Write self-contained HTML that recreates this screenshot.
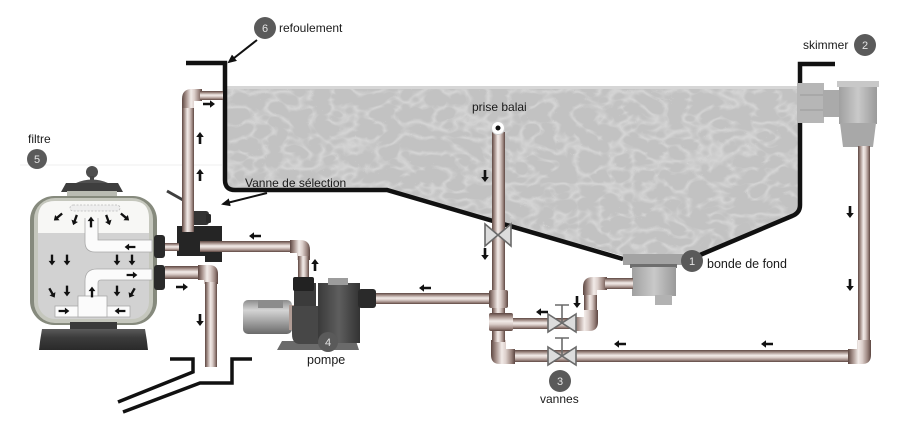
<!DOCTYPE html>
<html><head><meta charset="utf-8"><style>
html,body{margin:0;padding:0;background:#fff;}
svg{display:block;}
text{font-family:"Liberation Sans",Arial,sans-serif;}
</style></head><body>
<svg width="920" height="429" viewBox="0 0 920 429" xmlns="http://www.w3.org/2000/svg">
<defs>
 <linearGradient id="pv" x1="0" y1="0" x2="1" y2="0">
  <stop offset="0" stop-color="#5c4641"/><stop offset="0.2" stop-color="#a48f89"/>
  <stop offset="0.45" stop-color="#f2ebe8"/><stop offset="0.62" stop-color="#dccfcb"/>
  <stop offset="0.85" stop-color="#9a847e"/><stop offset="1" stop-color="#5c4641"/>
 </linearGradient>
 <linearGradient id="ph" x1="0" y1="0" x2="0" y2="1">
  <stop offset="0" stop-color="#5c4641"/><stop offset="0.2" stop-color="#a48f89"/>
  <stop offset="0.45" stop-color="#f2ebe8"/><stop offset="0.62" stop-color="#dccfcb"/>
  <stop offset="0.85" stop-color="#9a847e"/><stop offset="1" stop-color="#5c4641"/>
 </linearGradient>
 <linearGradient id="motor" x1="0" y1="0" x2="0" y2="1">
  <stop offset="0" stop-color="#8c8c8c"/><stop offset="0.3" stop-color="#d4d4d4"/>
  <stop offset="0.6" stop-color="#a8a8a8"/><stop offset="1" stop-color="#6a6a6a"/>
 </linearGradient>
 <linearGradient id="dark" x1="0" y1="0" x2="1" y2="0">
  <stop offset="0" stop-color="#3a3a3a"/><stop offset="0.5" stop-color="#5e5e5e"/><stop offset="1" stop-color="#333"/>
 </linearGradient>
 <linearGradient id="gsk" x1="0" y1="0" x2="1" y2="0">
  <stop offset="0" stop-color="#a0a0a0"/><stop offset="0.5" stop-color="#c9c9c9"/><stop offset="1" stop-color="#9a9a9a"/>
 </linearGradient>
 <linearGradient id="base" x1="0" y1="0" x2="0" y2="1">
  <stop offset="0" stop-color="#5a5a5a"/><stop offset="0.4" stop-color="#3c3c3c"/><stop offset="1" stop-color="#2a2a2a"/>
 </linearGradient>
 <filter id="tex" filterUnits="userSpaceOnUse" x="220" y="80" width="590" height="190">
  <feTurbulence type="turbulence" baseFrequency="0.045 0.065" numOctaves="2" seed="5" result="n"/>
  <feColorMatrix in="n" type="matrix" values="0 0 0 0 1  0 0 0 0 1  0 0 0 0 1  -4 0 0 0 1.1"/>
  <feComposite in2="SourceGraphic" operator="in"/>
 </filter>
 <path id="ar" d="M-6,-1.3 H1 V-3.8 L6,0 L1,3.8 V1.3 H-6 Z"/>
 <marker id="mk" markerWidth="9" markerHeight="8" refX="7" refY="4" orient="auto" markerUnits="userSpaceOnUse">
  <path d="M0,0 L9,4 L0,8 Z" fill="#111"/>
 </marker>
</defs>

<line x1="20" y1="165" x2="222" y2="165" stroke="#efefef" stroke-width="1"/>

<!-- water -->
<polygon points="226,87 800,87 800,210 700,253 683,256 623,256 387,190 235,190 226,184" fill="#c2c2c2"/>
<polygon points="226,87 800,87 800,210 700,253 683,256 623,256 387,190 235,190 226,184" fill="#fff" filter="url(#tex)" opacity="0.3"/>
<rect x="226" y="86" width="574" height="3" fill="#d6d6d6"/>

<!-- pool walls -->
<path d="M186,63 H225 V180 Q225,190 235,190 H387 L623,259" fill="none" stroke="#111" stroke-width="4.5"/>
<path d="M835,64 H800 V205 Q800,213 792,216 L700,255" fill="none" stroke="#111" stroke-width="4.5"/>

<!-- bonde de fond -->
<rect x="623" y="254" width="60" height="11" fill="#a3a3a3"/>
<rect x="630" y="264" width="47" height="4" fill="#6e6e6e"/>
<rect x="632" y="267" width="44" height="29" fill="url(#gsk)"/>
<rect x="655" y="295" width="17" height="10" fill="#b2b2b2"/>

<!-- skimmer -->
<rect x="797" y="83" width="27" height="40" fill="#b6b6b6"/>
<line x1="800" y1="95" x2="824" y2="95" stroke="#9a9a9a"/>
<line x1="800" y1="110" x2="824" y2="110" stroke="#9a9a9a"/>
<rect x="823" y="90" width="19" height="27" fill="#aaaaaa"/>
<rect x="839" y="86" width="38" height="38" fill="url(#gsk)"/>
<rect x="837" y="81" width="42" height="6" fill="#c8c8c8"/>
<path d="M840,123 H876 L873,147 H843 Z" fill="#a8a8a8"/>

<!-- pipes -->
<rect x="858" y="146" width="12" height="205" fill="url(#pv)"/>
<rect x="505" y="350" width="345" height="12" fill="url(#ph)"/>
<path d="M848,349 H857 V340 H871 V355 Q871,364 862,364 H848 Z" fill="url(#pv)"/>
<path d="M491,340 H506 V349 H515 V364 H500 Q491,364 491,355 Z" fill="url(#pv)"/>
<rect x="492" y="132" width="13" height="210" fill="url(#pv)"/>
<rect x="373" y="293" width="120" height="11" fill="url(#ph)"/>
<rect x="505" y="318" width="72" height="11" fill="url(#ph)"/>
<rect x="584" y="290" width="13" height="30" fill="url(#pv)"/>
<path d="M573,317 H584 V310 H598 V322 Q598,331 589,331 H573 Z" fill="url(#pv)"/>
<path d="M583,295 V287 Q583,277 593,277 H607 V290 H597 V295 Z" fill="url(#pv)"/>
<rect x="605" y="278" width="28" height="11" fill="url(#ph)"/>
<rect x="489" y="290" width="19" height="18" rx="2" fill="url(#pv)"/>
<rect x="489" y="313" width="24" height="18" rx="2" fill="url(#ph)"/>
<circle cx="498" cy="128" r="6.5" fill="#fff" stroke="#cfcfcf"/>
<circle cx="498" cy="128" r="2.5" fill="#111"/>

<!-- valves -->
<g fill="#dcdcdc" stroke="#6a6a6a" stroke-width="1.6">
 <path d="M485,224 L498,235 L485,246 Z M511,224 L498,235 L511,246 Z"/>
 <path d="M548,314 L562,323 L548,332 Z M576,314 L562,323 L576,332 Z"/>
 <path d="M548,347 L562,356 L548,365 Z M576,347 L562,356 L576,365 Z"/>
 <path d="M562,323 V305 M555,305 H569 M562,356 V338 M555,338 H569" fill="none"/>
</g>

<!-- filter -->
<circle cx="92" cy="172" r="6" fill="#4e4e4e"/>
<rect x="90" y="176" width="4" height="4" fill="#444"/>
<path d="M76,183 Q92,176 108,183 Z" fill="#505050"/>
<path d="M66,183 H118 L123,192 H61 Z" fill="#3e3e3e"/>
<rect x="67" y="191" width="50" height="7" fill="#b9bbb2"/>
<rect x="30" y="196" width="127" height="129" rx="24" fill="#868a7d"/>
<rect x="34" y="198" width="119" height="125" rx="21" fill="#c5c7bd"/>
<rect x="38" y="201" width="111" height="118" rx="17" fill="#d2d2d2"/>
<path d="M38,233 V218 Q38,201 55,201 H132 Q149,201 149,218 V233 Z" fill="#f7f7f5"/>
<rect x="70" y="205" width="50" height="6" rx="3" fill="#eee" stroke="#bbb" stroke-width="0.8" stroke-dasharray="2 1.5"/>
<g fill="#fbfbfb" stroke="#a9a9a9" stroke-width="0.8">
 <path d="M85,218 V242 Q85,252 95,252 H152 V240 H98 V218"/>
 <path d="M152,269 H97 Q85,269 85,281 V298 H98 V283 Q98,280 101,280 H152 Z"/>
 <rect x="55" y="306" width="75" height="11"/>
 <rect x="78" y="296" width="29" height="21"/>
</g>
<rect x="79" y="300" width="27" height="16" fill="#fbfbfb"/>
<rect x="70" y="322" width="47" height="7" fill="#3a3a3a"/>
<path d="M42,329 H145 Q147,340 148,350 H39 Q40,340 42,329 Z" fill="url(#base)"/>
<rect x="154" y="235" width="11" height="23" rx="3" fill="#2a2a2a"/>
<rect x="154" y="265" width="11" height="25" rx="3" fill="#2a2a2a"/>

<!-- multiport valve -->
<line x1="167" y1="191" x2="183" y2="200" stroke="#3e3e3e" stroke-width="3"/>
<rect x="183" y="211" width="26" height="14" rx="3" fill="#333"/>
<rect x="206" y="214" width="5" height="9" rx="1.5" fill="#2a2a2a"/>
<path d="M177,226 H222 V262 H205 V256 H177 Z" fill="#252525"/>
<rect x="165" y="243" width="14" height="8" fill="url(#ph)"/>
<rect x="182" y="104" width="12" height="128" fill="url(#pv)"/>
<path d="M182,108 V99 Q182,89 192,89 H202 V101 H194 V108 Z" fill="url(#pv)"/>
<rect x="200" y="91" width="23" height="9" fill="url(#ph)"/>
<rect x="200" y="241" width="92" height="11" fill="url(#ph)"/>
<path d="M290,240 H300 Q310,240 310,250 V260 H297 V253 H290 Z" fill="url(#pv)"/>
<rect x="298" y="256" width="11" height="26" fill="url(#pv)"/>
<rect x="165" y="266" width="36" height="13" fill="url(#ph)"/>
<path d="M198,265 H209 Q218,265 218,274 V284 H204 V280 H198 Z" fill="url(#pv)"/>
<rect x="205" y="282" width="12" height="85" fill="url(#pv)"/>

<!-- drain -->
<g fill="none" stroke="#111" stroke-width="3.5">
 <path d="M170,359 H193 V372 L118,402"/>
 <path d="M252,359 H232 V383 H200 L123,412"/>
</g>

<!-- pump -->
<path d="M277,350 L282,341 H356 L359,350 Z" fill="#6a6a6a"/>
<rect x="243" y="300" width="49" height="34" rx="5" fill="url(#motor)"/>
<rect x="258" y="300" width="25" height="8" fill="#8c8c8c"/>
<rect x="289" y="305" width="6" height="25" fill="#b09c95"/>
<rect x="294" y="283" width="22" height="24" fill="#3b3b3b"/>
<path d="M292,306 H322 V344 H300 Q292,344 292,334 Z" fill="#474747"/>
<rect x="293" y="277" width="21" height="14" rx="2" fill="#222"/>
<rect x="318" y="283" width="42" height="60" fill="url(#dark)"/>
<rect x="328" y="278" width="20" height="7" fill="#9c9c9c"/>
<rect x="358" y="289" width="18" height="19" rx="3" fill="#2a2a2a"/>

<!-- flow arrows -->
<g fill="#111">
 <use href="#ar" transform="translate(209,104)"/>
 <use href="#ar" transform="translate(200,138) rotate(-90)"/>
 <use href="#ar" transform="translate(200,175) rotate(-90)"/>
 <use href="#ar" transform="translate(485,176) rotate(90)"/>
 <use href="#ar" transform="translate(485,254) rotate(90)"/>
 <use href="#ar" transform="translate(542,312) rotate(180)"/>
 <use href="#ar" transform="translate(577,302) rotate(90)"/>
 <use href="#ar" transform="translate(620,344) rotate(180)"/>
 <use href="#ar" transform="translate(767,344) rotate(180)"/>
 <use href="#ar" transform="translate(850,212) rotate(90)"/>
 <use href="#ar" transform="translate(850,285) rotate(90)"/>
 <use href="#ar" transform="translate(425,288) rotate(180)"/>
 <use href="#ar" transform="translate(315,265) rotate(-90)"/>
 <use href="#ar" transform="translate(255,236) rotate(180)"/>
 <use href="#ar" transform="translate(182,287)"/>
 <use href="#ar" transform="translate(200,320) rotate(90)"/>
 <use href="#ar" transform="translate(58,217) rotate(140) scale(0.9)"/>
 <use href="#ar" transform="translate(75,220) rotate(110) scale(0.9)"/>
 <use href="#ar" transform="translate(91,222) rotate(-90) scale(0.9)"/>
 <use href="#ar" transform="translate(108,220) rotate(70) scale(0.9)"/>
 <use href="#ar" transform="translate(125,217) rotate(40) scale(0.9)"/>
 <use href="#ar" transform="translate(130,247) rotate(180) scale(0.9)"/>
 <use href="#ar" transform="translate(132,275) scale(0.9)"/>
 <use href="#ar" transform="translate(52,260) rotate(90) scale(0.9)"/>
 <use href="#ar" transform="translate(67,260) rotate(90) scale(0.9)"/>
 <use href="#ar" transform="translate(117,260) rotate(90) scale(0.9)"/>
 <use href="#ar" transform="translate(132,260) rotate(90) scale(0.9)"/>
 <use href="#ar" transform="translate(52,293) rotate(60) scale(0.9)"/>
 <use href="#ar" transform="translate(67,291) rotate(90) scale(0.9)"/>
 <use href="#ar" transform="translate(117,291) rotate(90) scale(0.9)"/>
 <use href="#ar" transform="translate(132,293) rotate(120) scale(0.9)"/>
 <use href="#ar" transform="translate(92,292) rotate(-90) scale(0.9)"/>
 <use href="#ar" transform="translate(64,311) scale(0.9)"/>
 <use href="#ar" transform="translate(120,311) rotate(180) scale(0.9)"/>
</g>

<line x1="257" y1="40" x2="229" y2="62" stroke="#111" stroke-width="2" marker-end="url(#mk)"/>
<line x1="267" y1="193" x2="223" y2="204" stroke="#111" stroke-width="2" marker-end="url(#mk)"/>

<g fill="#5a5a5a">
 <circle cx="265" cy="28" r="11"/>
 <circle cx="37" cy="159" r="10"/>
 <circle cx="865" cy="45" r="11"/>
 <circle cx="692" cy="261" r="11"/>
 <circle cx="560" cy="381" r="11"/>
 <circle cx="328" cy="342" r="10"/>
</g>
<g fill="#e4e4e4" font-size="11" text-anchor="middle">
 <text x="265" y="32">6</text>
 <text x="37" y="163">5</text>
 <text x="865" y="49">2</text>
 <text x="692" y="265">1</text>
 <text x="560" y="385">3</text>
 <text x="328" y="346">4</text>
</g>

<g fill="#1a1a1a" font-size="12">
 <text x="279" y="32">refoulement</text>
 <text x="28" y="143">filtre</text>
 <text x="245" y="187">Vanne de sélection</text>
 <text x="472" y="111">prise balai</text>
 <text x="803" y="49">skimmer</text>
 <text x="707" y="268" font-size="12.5">bonde de fond</text>
 <text x="307" y="364" font-size="12.5">pompe</text>
 <text x="540" y="403">vannes</text>
</g>
</svg>
</body></html>
